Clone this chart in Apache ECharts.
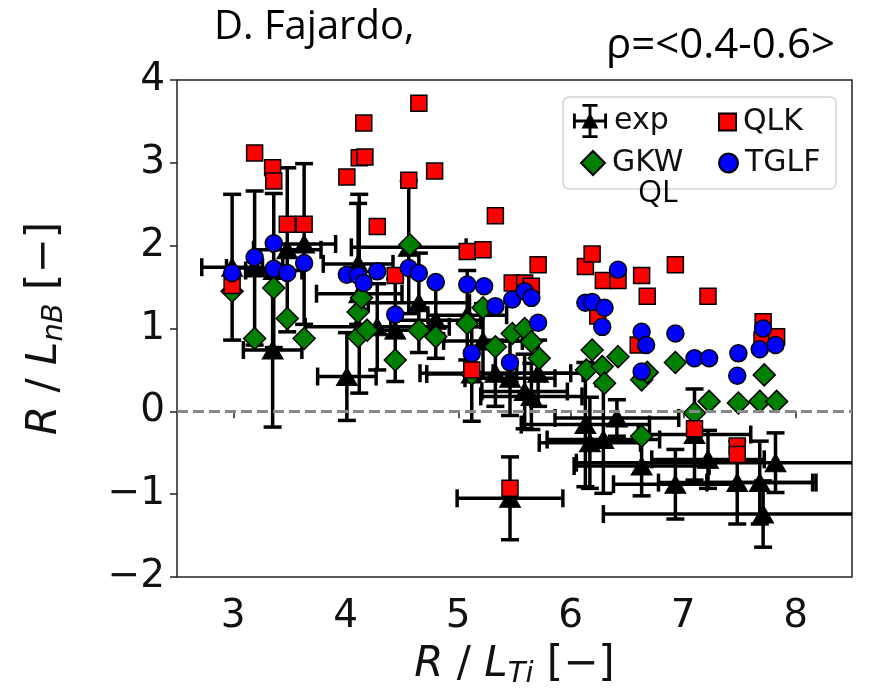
<!DOCTYPE html>
<html>
<head>
<meta charset="utf-8">
<script src="https://cdn.jsdelivr.net/npm/echarts@6/dist/echarts.min.js"></script>
<style>
  html, body { margin: 0; padding: 0; background: #fff; }
  #chart { width: 871px; height: 700px; }
</style>
</head>
<body>
<div id="chart"></div>
<script>
// Axis ticks
const xTickValues = [3, 4, 5, 6, 7, 8];
const yTickValues = [-2, -1, 0, 1, 2, 3, 4];
const xRange = [2.5, 8.5];

// Experimental points: R/LTi, R/LnB and their uncertainties
const expX    = [2.99, 3.19, 3.36, 3.35, 3.48, 3.63, 4.01, 4.12, 4.11, 4.28, 4.44, 4.56, 4.65, 4.80, 5.08, 5.12, 5.22, 5.33, 5.46, 5.46, 5.59, 5.65, 5.71, 6.13, 6.17, 6.29, 6.41, 6.63, 6.93, 7.10, 7.22, 7.48, 7.68, 7.71, 7.82];
const expY    = [1.74, 1.73, 1.70, 0.74, 1.95, 2.02, 0.42, 1.42, 1.78, 1.02, 0.98, 1.98, 1.31, 1.10, 1.16, 0.45, 0.85, 0.46, -1.05, 0.40, 0.24, 0.18, 0.46, -0.16, -0.38, -0.34, -0.08, -0.66, -0.88, -0.28, -0.58, -0.86, -0.86, -1.24, -0.62];
const expXErr = [0.27, 0.25, 0.25, 0.26, 0.30, 0.28, 0.26, 0.38, 0.31, 0.64, 0.35, 0.51, 0.45, 0.40, 0.35, 0.40, 0.35, 0.67, 0.47, 0.40, 0.38, 0.45, 0.40, 0.57, 0.45, 0.50, 0.55, 0.60, 0.55, 0.50, 0.50, 0.70, 0.47, 1.42, 1.77];
const expYErr = [0.88, 0.93, 0.93, 0.93, 0.99, 0.97, 0.53, 1.20, 0.73, 0.52, 0.62, 0.80, 0.60, 0.46, 0.54, 0.57, 0.45, 0.40, 0.50, 0.45, 0.45, 0.40, 0.40, 0.75, 0.55, 0.65, 0.22, 0.36, 0.42, 0.55, 0.35, 0.50, 0.50, 0.40, 0.36];

// Quasi-linear model predictions [R/LTi, R/LnB]
const gkwPoints = [
  [2.99, 1.45], [3.19, 0.88], [3.36, 1.49], [3.48, 1.12], [3.63, 0.88],
  [4.11, 0.90], [4.11, 1.20], [4.14, 1.37], [4.19, 0.98], [4.44, 0.62],
  [4.57, 2.01], [4.65, 0.98], [4.80, 0.90], [5.08, 1.06], [5.12, 0.45],
  [5.22, 1.25], [5.33, 0.78], [5.48, 0.94], [5.59, 1.00], [5.65, 0.84],
  [5.72, 0.64], [6.14, 0.50], [6.19, 0.74], [6.28, 0.54], [6.30, 0.34],
  [6.42, 0.66], [6.63, -0.30], [6.63, 0.38], [6.68, 0.47], [6.93, 0.59],
  [7.10, -0.02], [7.23, 0.12], [7.49, 0.10], [7.68, 0.12], [7.72, 0.44],
  [7.83, 0.12]
];
const qlkPoints = [
  [2.99, 1.52], [3.19, 3.12], [3.35, 2.94], [3.36, 2.78], [3.48, 2.26],
  [3.63, 2.26], [4.01, 2.83], [4.12, 3.06], [4.16, 3.48], [4.17, 3.07],
  [4.28, 2.23], [4.44, 1.64], [4.56, 2.79], [4.65, 3.72], [4.79, 2.90],
  [5.08, 1.93], [5.12, 0.50], [5.22, 1.95], [5.33, 2.36], [5.46, -0.93],
  [5.48, 1.55], [5.59, 1.55], [5.65, 1.51], [5.71, 1.77], [6.13, 1.75],
  [6.19, 1.90], [6.24, 1.15], [6.29, 1.58], [6.42, 1.58], [6.60, 0.80],
  [6.63, 1.64], [6.68, 1.39], [6.93, 1.77], [7.10, -0.21], [7.22, 1.39],
  [7.48, -0.42], [7.48, -0.52], [7.70, 0.86], [7.71, 1.08], [7.83, 0.90]
];
const tglfPoints = [
  [2.99, 1.67], [3.19, 1.86], [3.36, 2.03], [3.36, 1.72], [3.48, 1.67],
  [3.63, 1.79], [4.01, 1.65], [4.11, 1.64], [4.16, 1.55], [4.28, 1.69],
  [4.44, 1.17], [4.56, 1.73], [4.65, 1.67], [4.80, 1.56], [5.08, 1.53],
  [5.12, 0.70], [5.23, 1.51], [5.33, 1.27], [5.46, 0.59], [5.48, 1.35],
  [5.59, 1.45], [5.65, 1.37], [5.71, 1.07], [6.13, 1.31], [6.19, 1.32],
  [6.28, 1.02], [6.30, 1.25], [6.42, 1.71], [6.63, 0.96], [6.63, 0.48],
  [6.67, 0.80], [6.93, 0.94], [7.10, 0.64], [7.23, 0.64], [7.48, 0.43],
  [7.49, 0.70], [7.68, 0.75], [7.71, 1.00], [7.82, 0.80]
];

const expData = expX.map((x, i) => [x, expY[i], expXErr[i], expYErr[i]]);
const expPoints = expX.map((x, i) => [x, expY[i]]);

const minus = v => (v < 0 ? '\u2212' + Math.abs(v) : String(v));
const tickFont = { fontFamily: 'DejaVu Sans', fontSize: 39, color: '#111' };
const nameStyle = {
  fontFamily: 'DejaVu Sans', fontSize: 42, color: '#111',
  rich: {
    up: { fontFamily: 'DejaVu Sans', fontSize: 42, color: '#111', lineHeight: 48 },
    it: { fontFamily: 'DejaVu Sans', fontStyle: 'italic', fontSize: 42, color: '#111', lineHeight: 48 },
    sub: { fontFamily: 'DejaVu Sans', fontStyle: 'italic', fontSize: 29, color: '#111', lineHeight: 32, verticalAlign: 'bottom' }
  }
};

// Error bars with caps, clamped to the plotting area
function renderErrorBar(params, api) {
  const x = api.value(0), y = api.value(1), xe = api.value(2), ye = api.value(3);
  const cs = params.coordSys;
  const x0 = cs.x, x1 = cs.x + cs.width, y0 = cs.y, y1 = cs.y + cs.height;
  const l = api.coord([x - xe, y]), r = api.coord([x + xe, y]);
  const t = api.coord([x, y + ye]), b = api.coord([x, y - ye]);
  const cap = 9;
  const st = { stroke: '#000', lineWidth: 3.5 };
  const kids = [];
  const lx = Math.max(l[0], x0), rx = Math.min(r[0], x1);
  const ty = Math.max(t[1], y0), by = Math.min(b[1], y1);
  kids.push({ type: 'line', shape: { x1: lx, y1: l[1], x2: rx, y2: r[1] }, style: st });
  kids.push({ type: 'line', shape: { x1: t[0], y1: ty, x2: b[0], y2: by }, style: st });
  if (l[0] >= x0) kids.push({ type: 'line', shape: { x1: l[0], y1: l[1] - cap, x2: l[0], y2: l[1] + cap }, style: st });
  if (r[0] <= x1) kids.push({ type: 'line', shape: { x1: r[0], y1: r[1] - cap, x2: r[0], y2: r[1] + cap }, style: st });
  if (t[1] >= y0) kids.push({ type: 'line', shape: { x1: t[0] - cap, y1: t[1], x2: t[0] + cap, y2: t[1] }, style: st });
  if (b[1] <= y1) kids.push({ type: 'line', shape: { x1: b[0] - cap, y1: b[1], x2: b[0] + cap, y2: b[1] }, style: st });
  return { type: 'group', children: kids };
}

const expIcon = 'path://M2 18.5h36v3h-36z M2 12h3v16h-3z M35 12h3v16h-3z M18.5 2h3v36h-3z M12 2h16v3h-16z M12 35h16v3h-16z M20 11L29 28L11 28z';
const legendText = { fontFamily: 'DejaVu Sans', fontSize: 30, color: '#111', lineHeight: 34 };
function legendItem(name, icon, left, top, w, h, extra) {
  return {
    data: [Object.assign({ name: name, icon: icon }, extra || {})],
    left: left, top: top, padding: 0, z: 10,
    itemWidth: w, itemHeight: h, itemGap: 0,
    selectedMode: false,
    textStyle: Object.assign({ padding: [0, 0, 0, 2] }, legendText)
  };
}

const chart = echarts.init(document.getElementById('chart'), null, { renderer: 'canvas' });
chart.setOption({
  animation: false,
  backgroundColor: '#fff',
  grid: {
    left: 177, right: 19, top: 80, bottom: 123,
    outerBoundsMode: 'none', containLabel: false,
    show: true, borderColor: '#222', borderWidth: 1.5, backgroundColor: 'transparent'
  },
  xAxis: {
    type: 'value', min: xRange[0], max: xRange[1],
    axisLine: { show: false },
    splitLine: { show: false },
    axisTick: { show: true, length: 7, lineStyle: { color: '#222', width: 1.5 }, customValues: xTickValues },
    axisLabel: Object.assign({ margin: 20, customValues: xTickValues, formatter: minus }, tickFont),
    name: '{it|R} / {it|L}{sub|Ti} {up|[\u2212]}',
    nameLocation: 'middle', nameGap: 64,
    nameTextStyle: nameStyle
  },
  yAxis: {
    type: 'value', min: yTickValues[0], max: yTickValues[yTickValues.length - 1], interval: 1,
    axisLine: { show: false },
    splitLine: { show: false },
    axisTick: { show: true, length: 7, lineStyle: { color: '#222', width: 1.5 } },
    axisLabel: Object.assign({ margin: 12, formatter: minus }, tickFont),
    name: '{it|R} / {it|L}{sub|nB} {up|[\u2212]}',
    nameLocation: 'middle', nameGap: 108, nameRotate: 90,
    nameTextStyle: nameStyle
  },
  legend: [
    legendItem('exp', expIcon, 573, 104, 34, 34, { itemStyle: { color: '#000', borderWidth: 0 } }),
    legendItem('GKW', 'diamond', 580, 146, 24, 24),
    legendItem('QLK', 'rect', 718, 105, 17, 17),
    legendItem('TGLF', 'circle', 718, 146, 19, 19)
  ],
  graphic: [
    {
      type: 'rect', z: 3, silent: true,
      shape: { x: 563, y: 97, width: 273, height: 92, r: 6 },
      style: { fill: 'rgba(255,255,255,0.8)', stroke: '#d4d4d4', lineWidth: 1.5 }
    },
    {
      type: 'text', left: 214, top: 8, silent: true,
      style: { text: 'D. Fajardo,', fontFamily: 'Open Sans', fontSize: 40, fill: '#000' }
    },
    {
      type: 'text', left: 606, top: 25, silent: true,
      style: { text: '\u03c1=<0.4-0.6>', fontFamily: 'Open Sans', fontSize: 42, fill: '#000' }
    },
    {
      type: 'text', left: 638, top: 178, z: 95, silent: true,
      style: { text: 'QL', fontFamily: 'Open Sans', fontSize: 31, fill: '#000' }
    }
  ],
  series: [
    {
      name: 'zero', type: 'scatter', data: [], silent: true,
      markLine: {
        silent: true, symbol: 'none', label: { show: false },
        lineStyle: { color: '#888', type: [11, 5], width: 3, opacity: 1 },
        data: [{ yAxis: 0 }]
      }
    },
    {
      name: 'exp', type: 'custom', renderItem: renderErrorBar,
      data: expData, encode: { x: 0, y: 1 }, silent: true,
      itemStyle: { color: '#000' }
    },
    {
      name: 'exp', type: 'scatter', data: expPoints,
      symbol: 'triangle', symbolSize: [21, 18],
      itemStyle: { color: '#000', borderColor: '#000', borderWidth: 1, opacity: 1 }
    },
    {
      name: 'GKW', type: 'scatter', data: gkwPoints,
      symbol: 'diamond', symbolSize: 22,
      itemStyle: { color: '#008000', borderColor: '#000', borderWidth: 1.5, opacity: 1 }
    },
    {
      name: 'QLK', type: 'scatter', data: qlkPoints,
      symbol: 'rect', symbolSize: 16,
      itemStyle: { color: '#ff0000', borderColor: '#000', borderWidth: 1.5, opacity: 1 }
    },
    {
      name: 'TGLF', type: 'scatter', data: tglfPoints,
      symbol: 'circle', symbolSize: 17,
      itemStyle: { color: '#0000ff', borderColor: '#000', borderWidth: 1.5, opacity: 1 }
    }
  ]
});
</script>
</body>
</html>
